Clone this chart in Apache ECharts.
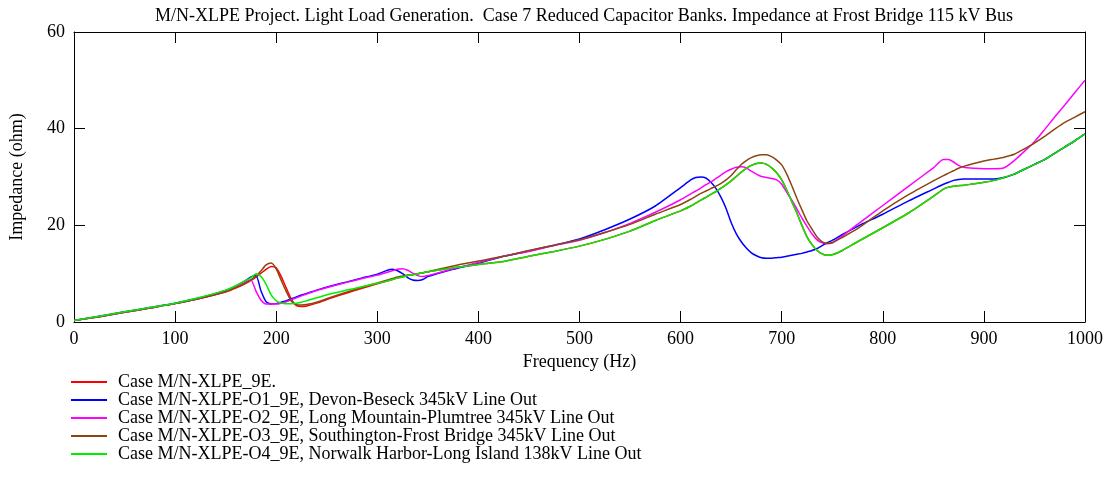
<!DOCTYPE html>
<html>
<head>
<meta charset="utf-8">
<script src="https://cdn.jsdelivr.net/npm/echarts@6/dist/echarts.min.js"></script>
<style>html,body{margin:0;padding:0;background:#fff;}#c{width:1109px;height:478px;}</style>
</head>
<body>
<div id="c"></div>
<script>
const titleText = 'M/N-XLPE Project. Light Load Generation.  Case 7 Reduced Capacitor Banks. Impedance at Frost Bridge 115 kV Bus';
const xName = 'Frequency (Hz)';
const yName = 'Impedance (ohm)';
const seriesNames = [
  'Case M/N-XLPE_9E.',
  'Case M/N-XLPE-O1_9E, Devon-Beseck 345kV Line Out',
  'Case M/N-XLPE-O2_9E, Long Mountain-Plumtree 345kV Line Out',
  'Case M/N-XLPE-O3_9E, Southington-Frost Bridge 345kV Line Out',
  'Case M/N-XLPE-O4_9E, Norwalk Harbor-Long Island 138kV Line Out'
];
const seriesColors = ['#ff0000', '#0000ff', '#ff00ff', '#8b4513', '#00ee00'];

const freq = [
  0,25,50,75,100,125,150,
  160,170,175,180,185,190,195,200,
  205,210,215,220,225,230,
  240,255,270,285,300,
  310,315,320,325,330,335,340,345,350,
  375,400,425,450,475,500,525,550,575,600,
  610,615,620,625,630,635,640,645,650,
  655,660,665,670,675,680,685,690,695,700,
  705,710,715,720,725,730,735,740,745,750,
  760,775,800,825,850,
  860,865,870,875,880,
  890,900,910,920,930,940,950,960,970,980,990,1000
];

const zBase = [
  0.3,1.1,2.0,2.9,3.8,4.9,6.2,
  7.0,8.0,8.6,9.3,10.1,10.9,11.5,11.2,
  9.4,7.0,4.7,3.4,3.2,3.3,
  3.9,5.0,6.0,7.0,7.9,
  8.5,8.8,9.1,9.3,9.6,9.8,10.0,10.2,10.4,
  11.2,11.9,12.5,13.6,14.6,15.7,17.1,18.8,21.0,23.0,
  24.0,24.6,25.2,25.8,26.4,27.0,27.7,28.4,29.2,
  30.1,31.0,31.8,32.4,32.8,32.9,32.6,31.9,30.9,29.4,
  27.3,24.9,22.6,20.0,17.6,16.0,14.8,14.1,13.8,13.9,
  14.8,16.6,19.5,22.5,26.0,
  27.5,27.9,28.1,28.2,28.3,
  28.6,28.9,29.3,29.9,30.6,31.6,32.6,33.6,34.9,36.2,37.5,38.9
];

const zO1 = [
  0.3,1.2,2.1,3.0,3.9,5.0,6.5,
  7.4,8.6,9.3,9.6,6.4,4.2,3.7,3.8,
  4.1,4.4,4.8,5.2,5.6,5.9,
  6.6,7.5,8.3,9.1,9.9,
  10.7,10.9,10.6,10.0,9.2,8.7,8.6,8.8,9.4,
  10.9,12.2,13.6,14.7,15.9,17.2,19.1,21.3,24.0,27.8,
  29.4,29.9,30.0,29.8,28.9,27.6,25.8,23.5,20.6,
  18.3,16.6,15.3,14.3,13.7,13.3,13.2,13.2,13.3,13.4,
  13.6,13.8,14.0,14.2,14.5,14.8,15.2,15.8,16.4,16.9,
  18.1,19.8,22.3,25.0,27.5,
  28.5,28.9,29.3,29.5,29.6,
  29.6,29.6,29.6,29.9,30.6,31.6,32.6,33.6,34.9,36.2,37.5,38.9
];

const zO2 = [
  0.3,1.1,2.0,2.9,3.8,4.9,6.3,
  7.3,8.3,8.7,6.4,4.5,3.7,3.7,3.7,
  3.9,4.2,4.6,5.0,5.4,5.8,
  6.5,7.4,8.2,9.0,9.7,
  10.3,10.6,10.9,11.0,10.7,10.1,9.6,9.4,9.6,
  11.0,12.3,13.6,14.6,15.8,16.9,18.5,20.4,22.7,25.3,
  26.5,27.1,27.7,28.4,29.0,29.7,30.4,31.1,31.6,
  32.0,32.1,31.9,31.2,30.6,30.1,29.9,29.7,29.4,28.5,
  26.8,25.2,23.4,21.5,19.8,18.2,17.0,16.4,16.2,16.4,
  17.8,20.2,24.1,28.0,31.9,
  33.6,33.6,33.1,32.4,32.0,
  31.8,31.7,31.7,31.9,33.4,35.3,37.3,39.8,42.4,44.9,47.5,50.0
];

const zO3 = [
  0.3,1.1,2.0,2.9,3.8,4.9,6.3,
  7.1,8.1,8.7,9.5,10.6,11.8,12.2,11.0,
  8.6,6.3,4.3,3.6,3.5,3.6,
  4.1,5.2,6.2,7.2,8.1,
  8.7,9.0,9.3,9.5,9.7,9.8,10.0,10.2,10.4,
  11.6,12.6,13.6,14.8,15.9,17.0,18.5,20.2,22.3,24.3,
  25.4,26.0,26.6,27.1,27.6,28.1,28.7,29.4,30.3,
  31.5,32.6,33.4,34.0,34.4,34.6,34.6,34.2,33.5,32.5,
  30.6,28.2,25.6,23.2,20.9,19.2,17.6,16.6,16.3,16.4,
  17.5,19.3,23.0,26.3,29.2,
  30.3,30.8,31.3,31.8,32.2,
  32.8,33.3,33.7,34.1,34.7,35.8,37.0,38.4,39.9,41.3,42.4,43.5
];

const zO4 = [
  0.3,1.2,2.1,3.0,3.9,5.1,6.6,
  7.5,8.6,9.2,10.0,9.4,7.8,5.6,4.4,
  3.9,3.8,3.8,3.9,4.1,4.4,
  5.0,5.9,6.6,7.3,8.0,
  8.5,8.8,9.1,9.3,9.6,9.8,10.0,10.2,10.4,
  11.2,11.9,12.5,13.6,14.6,15.7,17.1,18.8,21.0,23.0,
  24.0,24.6,25.2,25.8,26.4,27.0,27.7,28.4,29.2,
  30.1,31.0,31.8,32.4,32.8,32.9,32.6,31.9,30.9,29.4,
  27.3,24.9,22.6,20.0,17.6,16.0,14.8,14.1,13.8,13.9,
  14.8,16.6,19.5,22.5,26.0,
  27.5,27.9,28.1,28.2,28.3,
  28.6,28.9,29.3,29.9,30.6,31.6,32.6,33.6,34.9,36.2,37.5,38.9
];

const allValues = [zBase, zO1, zO2, zO3, zO4];
const FONT = 'Liberation Serif';
const FS = 18;

const chart = echarts.init(document.getElementById('c'), null, {renderer: 'canvas'});
const axisCommon = {
  axisLine: {show: true, onZero: false, lineStyle: {color: '#000', width: 1}},
  axisTick: {show: true, inside: true, length: 11, lineStyle: {color: '#000', width: 1}},
  splitLine: {show: false}
};
chart.setOption({
  animation: false,
  backgroundColor: '#fff',
  title: {
    text: titleText,
    left: 584, top: 7, textAlign: 'center', padding: 0,
    textStyle: {fontFamily: FONT, fontSize: FS, fontWeight: 'normal', color: '#000'}
  },
  grid: {left: 72, right: 24, top: 32, bottom: 156, containLabel: false},
  legend: {
    orient: 'vertical', left: 71, top: 373, padding: 0,
    icon: 'rect', itemWidth: 36, itemHeight: 2, itemGap: 0,
    textStyle: {fontFamily: FONT, fontSize: FS, color: '#000', lineHeight: 18, padding: [0,0,0,6]},
    data: seriesNames
  },
  xAxis: [
    Object.assign({
      type: 'value', min: 0, max: 1000, interval: 100, position: 'bottom',
      name: xName, nameLocation: 'middle', nameGap: 30,
      nameTextStyle: {fontFamily: FONT, fontSize: FS, color: '#000'},
      axisLabel: {fontFamily: FONT, fontSize: FS, color: '#000', margin: 8, formatter: v => String(v)}
    }, axisCommon),
    Object.assign({
      type: 'value', min: 0, max: 1000, interval: 100, position: 'top',
      axisLabel: {show: false}
    }, axisCommon)
  ],
  yAxis: [
    Object.assign({
      type: 'value', min: 0, max: 60, interval: 20, position: 'left',
      name: yName, nameLocation: 'middle', nameGap: 48,
      nameTextStyle: {fontFamily: FONT, fontSize: FS, color: '#000'},
      axisLabel: {fontFamily: FONT, fontSize: FS, color: '#000', margin: 9, formatter: v => String(v)}
    }, axisCommon),
    Object.assign({
      type: 'value', min: 0, max: 60, interval: 20, position: 'right',
      axisLabel: {show: false}
    }, axisCommon)
  ],
  series: seriesNames.map((name, k) => ({
    name: name,
    type: 'line',
    xAxisIndex: 0, yAxisIndex: 0,
    showSymbol: false,
    symbol: 'none',
    smooth: 0.2,
    color: seriesColors[k],
    lineStyle: {color: seriesColors[k], width: 1.5},
    data: freq.map((f, i) => [f, allValues[k][i]])
  }))
});
</script>
</body>
</html>
